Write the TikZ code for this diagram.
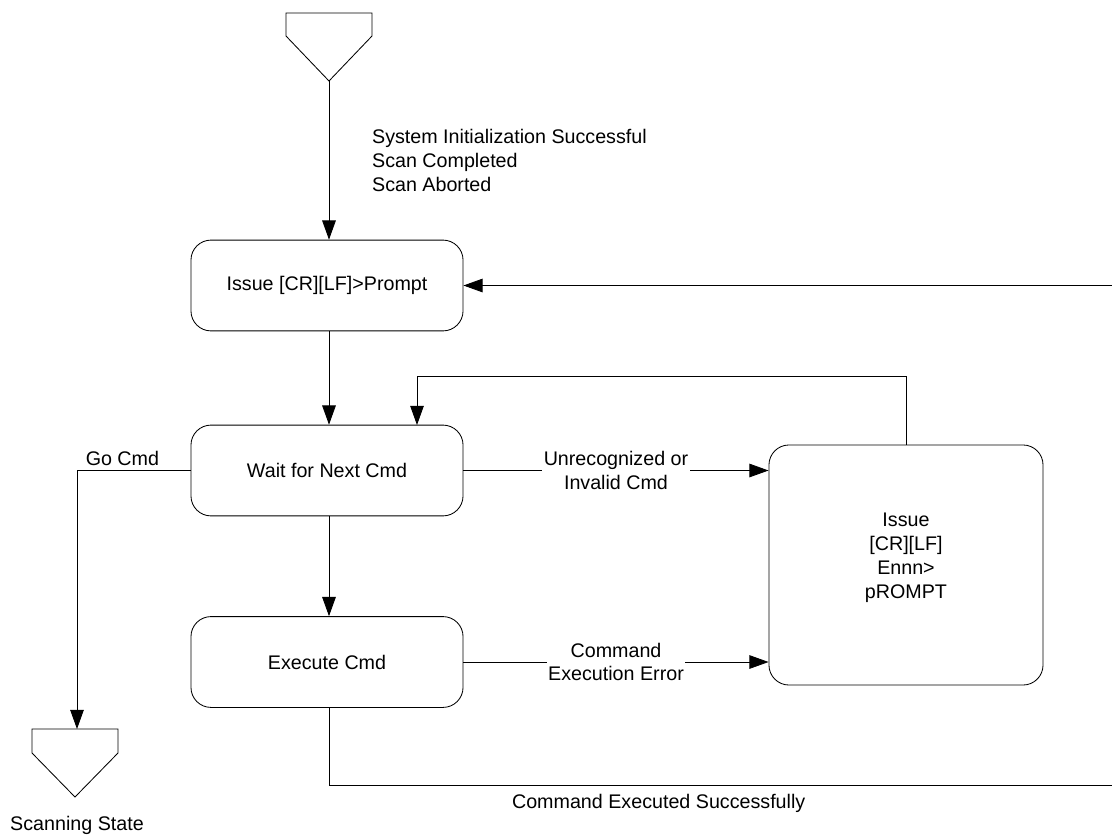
\documentclass[tikz,border=0pt]{standalone}
\usepackage{fontspec}
\setmainfont{Liberation Sans}
\usetikzlibrary{arrows.meta}
\tikzset{state/.style={draw=black, rounded corners=0.5cm, minimum width=6.8cm, minimum height=2.27cm, align=center, line width=0.6pt},
%label that breaks the line it sits on
gap/.style={fill=white, align=center, inner sep=1pt},
flow/.style={-{Triangle[length=0.48cm, width=0.34cm]}, line width=0.6pt}}

\begin{document}
\begin{tikzpicture}[x=0.025cm, y=-0.025cm, font=\fontsize{14}{17}\selectfont]
    \useasboundingbox (0,0) rectangle (1112,836);
    % entry and exit markers
    \draw[line width=0.6pt] (286,13) -- (372,13) -- (372,36) -- (329,81) -- (286,36) -- cycle;
    \coordinate (entry) at (329,81);
    \draw[line width=0.6pt] (32,729) -- (118,729) -- (118,753) -- (75,797) -- (32,753) -- cycle;
    \coordinate (scan) at (75,729);
    \node[below] at (77,811) {Scanning State};

    \node[state] (prompt) at (327,285.5) {Issue [CR][LF]>Prompt};
    \node[state] (wait) at (327,470.5) {Wait for Next Cmd};
    \node[state] (exec) at (327,662) {Execute Cmd};
    \node[state, minimum width=6.85cm, minimum height=6cm] (error) at (906,565) {Issue\\ {[CR][LF]}\\ Ennn>\\ pROMPT\\[-0.15cm]};

    \draw [flow] (entry) -- (prompt.north -| entry)
        node[pos=0.5, right, xshift=0.95cm, align=left]{System Initialization Successful\\ Scan Completed\\ Scan Aborted};
    \draw [flow] (prompt.south -| entry) -- (wait.north -| entry);
    \draw [flow] (wait.south -| entry) -- (exec.north -| entry);
    \draw [flow] (wait.west) -- (77,470.5) node[pos=0.6, above]{Go Cmd} -- (scan -| 77,0);
    \draw [flow] (wait.east) -- (error.west |- wait.east) node[gap, midway]{Unrecognized or\\ Invalid Cmd};
    \draw [flow] (exec.east) -- (error.west |- exec.east) node[gap, midway]{Command\\ Execution Error};
    \draw [flow] (error.north) -- (906,376) -- (417,376) -- (417,425);
    \draw [flow] (exec.south -| entry) -- (329,785) -- (1114,785) node[pos=0.42, below, yshift=-0.1cm]{Command Executed Successfully}
        -- (1114,285.5) -- (prompt.east);
\end{tikzpicture}
\end{document}
